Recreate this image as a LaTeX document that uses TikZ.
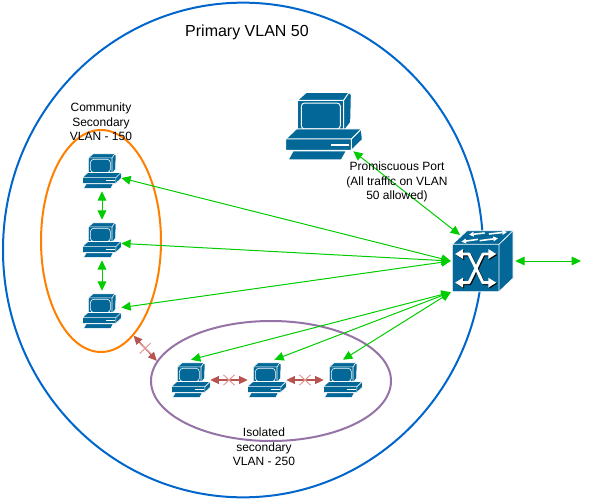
\documentclass[tikz,border=0pt]{standalone}
\usepackage{fontspec}
\setmainfont{Liberation Sans}
\usetikzlibrary{arrows.meta, positioning, shapes.geometric, shapes.misc}
\definecolor{ciscoblue}{HTML}{036897}
\definecolor{vlanblue}{HTML}{0066CC}
\definecolor{commorange}{HTML}{FF8000}
\definecolor{isopurple}{HTML}{9673A6}
\definecolor{allowgreen}{HTML}{00CC00}
\definecolor{blockred}{HTML}{B85450}
\definecolor{crossred}{HTML}{E09894}
\tikzset{
  pcbox/.style={minimum width=28.5pt, minimum height=30pt, inner sep=0pt},
  zone/.style={draw=#1, ellipse, line width=1.5pt, inner sep=0pt},
  allow/.style={allowgreen, line width=0.75pt, {Triangle[length=7pt, width=6.5pt]}-{Triangle[length=7pt, width=6.5pt]}},
  block/.style={blockred, line width=0.9pt, {Triangle[length=6.5pt, width=6pt]}-{Triangle[length=6.5pt, width=6pt]}},
  crossx/.style={cross out, draw=crossred, line width=0.75pt, minimum width=7.5pt, minimum height=7pt, inner sep=0pt},
  label/.style={font=\fontsize{9}{10.8}\selectfont, align=center, inner sep=0pt},
  pics/pcicon/.style={code={
    \begin{scope}[shift={(-163,-139)}, draw=white, line width=#1, fill=ciscoblue, line join=round]
      % Monitor
      \filldraw (110,38) -- (238,38) -- (245,45) -- (243,128) -- (222,155) -- (83,155) -- (83,62) -- cycle;
      \draw (83,62) -- (222,62) -- (238,38) (222,62) -- (222,155);
      \draw[rounded corners=2.5] (95,70) rectangle (212,148);
      % Base
      \filldraw (48,178) -- (80,148) -- (275,148) -- (278,180) -- (245,212) -- (48,212) -- cycle;
      \draw (48,178) -- (245,178) -- (275,148) (245,178) -- (245,212);
      \fill[white] (185,192) rectangle (237,200);
      % Keyboard
      \filldraw (70,214) -- (230,214) -- (215,241) -- (55,241) -- cycle;
    \end{scope}
  }},
}

\begin{document}
\begin{tikzpicture}[x=0.75pt, y=-0.75pt]
\useasboundingbox (0,0) rectangle (591,502);

% Zones
\node[zone=vlanblue, minimum width=360pt, minimum height=371pt] (primary) at (243,250) {};
\node[zone=commorange, minimum width=90pt, minimum height=166.5pt] (community) at (101,241) {};
\node[zone=isopurple, minimum width=180pt, minimum height=90pt] (isolated) at (271,381) {};

% Hosts
\node[minimum width=43.5pt, minimum height=37.5pt, inner sep=0pt] (server) at (324,126) {};
\node[pcbox] (pca) at (102,171) {};
\node[pcbox] (pcb) at (102,240) {};
\node[pcbox] (pcc) at (102,311) {};
\node[pcbox] (pcd) at (191,380) {};
\node[pcbox] (pce) at (267,380) {};
\node[pcbox] (pcf) at (343,380) {};
\node[minimum width=48pt, minimum height=46.5pt, inner sep=0pt] (switch) at (483,261) {};
\coordinate (swtop) at (460,235);
\coordinate (uplink) at (581,261);

% Allowed traffic
\draw[allow] (server.south east) -- (swtop);
\foreach \a in {pca.-20,pcb.-10,pcc.10} {
  \draw[allow] (\a) -- (switch.west);
}
\foreach \a in {pcd.north,pce.70,pcf.north} {
  \draw[allow] (\a) -- (switch.south west);
}
\draw[allow] (pca.south) -- (pcb.north);
\draw[allow] (pcb.south) -- (pcc.north);
\draw[allow] (switch.east) -- (uplink);

% Blocked traffic
\draw[block] (community.-71) -- node[crossx] (xa) {} (isolated.170);
\draw[block] (pcd.east) -- node[crossx] (xb) {} (pce.west);
\draw[block] (pce.east) -- node[crossx] (xc) {} (pcf.west);

% Icons
\pic[scale=0.3333] at (server) {pcicon=0.75pt};
\foreach \n in {pca,pcb,pcc,pcd,pce,pcf} {
  \pic[scale=0.17] at (\n) {pcicon=0.45pt};
}

% Switch cube
\begin{scope}[shift={(switch)}, scale=0.3333, shift={(-160,-153)}, line join=round]
  \filldraw[fill=ciscoblue, draw=white, line width=0.6pt] (68,103) -- (112,62) -- (250,62) -- (250,205) -- (208,245) -- (68,245) -- cycle;
  \draw[white, line width=0.6pt] (68,103) -- (208,103) -- (250,62) (208,103) -- (208,245);
  % Top arrows
  \foreach \xa/\ya/\xb/\yb in {165/69/118/74, 178/72/232/66, 145/88/95/95, 150/92/205/85} {
    \draw[white, line width=1.2pt, -{Triangle[length=3.5pt, width=3.5pt]}] (\xa,\ya) -- (\xb,\yb);
  }
  % Front arrows
  \foreach \c/\d in {black/3,white/0} {
    \begin{scope}[shift={(\d,\d)}]
      \draw[\c, line width=2.2pt, {Triangle[length=6pt, width=7pt]}-{Triangle[length=6pt, width=7pt]}] (76,132) -- (118,132) -- (160,218) -- (200,218);
      \draw[\c, line width=2.2pt, {Triangle[length=6pt, width=7pt]}-{Triangle[length=6pt, width=7pt]}] (76,218) -- (118,218) -- (160,132) -- (200,132);
    \end{scope}
  }
\end{scope}

% Labels
\node[font=\fontsize{12}{14}\selectfont, inner sep=0pt] (title) at (247,32) {Primary VLAN 50};
\node[label] (commlabel) at (101,122) {Community\\Secondary\\VLAN - 150};
\node[label] (promlabel) at (397,182) {Promiscuous Port\\(All traffic on VLAN\\50 allowed)};
\node[label] (isolabel) at (264,447) {Isolated\\secondary\\VLAN - 250};

\end{tikzpicture}
\end{document}
